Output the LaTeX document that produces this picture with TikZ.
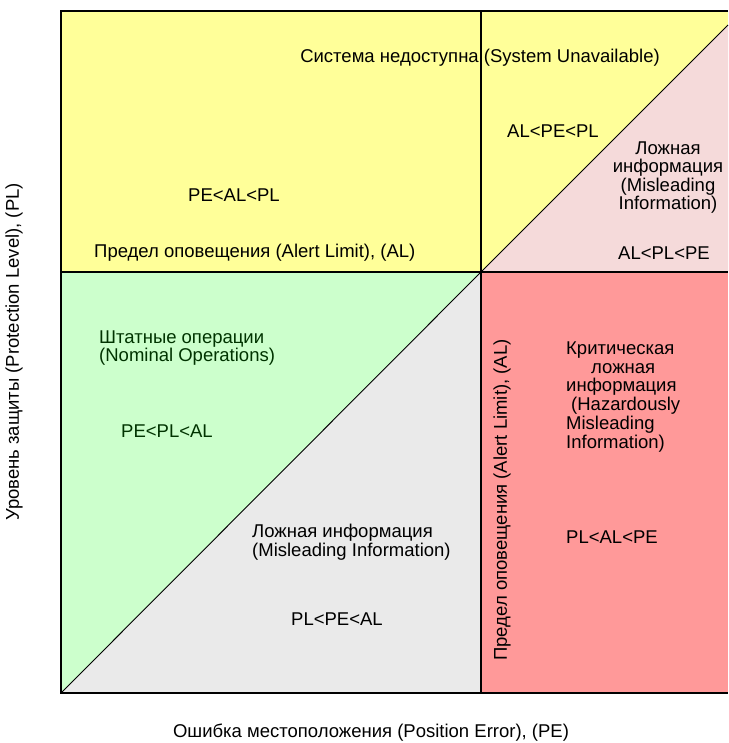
\documentclass[tikz,border=0pt]{standalone}
\usepackage{fontspec}
\setmainfont{Liberation Sans}
\usetikzlibrary{positioning}
\definecolor{cyellow}{HTML}{FFFF99}
\definecolor{cgreen}{HTML}{CCFFCC}
\definecolor{cgray}{HTML}{EAEAEA}
\definecolor{cred}{HTML}{FF9999}
\definecolor{cpink}{HTML}{F5DADA}
\definecolor{dgreen}{HTML}{003300}
\tikzset{
  lbl/.style={inner sep=0pt, font=\fontsize{18.5}{18.5}\selectfont, text=black},
  glbl/.style={lbl, text=dgreen},
  border/.style={line width=1.4pt, black},
  diag/.style={line width=0.9pt, black}
}
\begin{document}
\begin{tikzpicture}[x=1pt,y=-1pt]
\useasboundingbox (0,0) rectangle (728,743);
% coordinates
\coordinate (tl) at (61,11);
\coordinate (tm) at (481,11);
\coordinate (tr) at (728,11);
\coordinate (ml) at (61,272);
\coordinate (c)  at (481,272);
\coordinate (mr) at (728,272);
\coordinate (bl) at (61,693);
\coordinate (bm) at (481,693);
\coordinate (br) at (728,693);
\coordinate (dtr) at (728,25);
% fills
\fill[cyellow] (tl) rectangle (c);
\fill[cyellow] (tm) rectangle (mr);
\fill[cpink] (c) -- (dtr) -- (mr) -- cycle;
\fill[cgreen] (ml) -- (c) -- (bl) -- cycle;
\fill[cgray] (c) -- (bm) -- (bl) -- cycle;
\fill[cred] (c) rectangle (br);
% diagonals
\draw[diag] (bl) -- (c);
\draw[diag] (c) -- (dtr);
% borders
\draw[border] (tr) -- (tl) -- (bl) -- (br);
\draw[border] (tm) -- (bm);
\draw[border] (ml) -- (mr);
% texts
\node[lbl] (sys) at (480,58) {Система недоступна (System Unavailable)};
\node[lbl] (peal) at (234,195) {PE<AL<PL};
\node[lbl, anchor=west] (al1) at (94,253) {Предел оповещения (Alert Limit), (AL)};
\node[lbl] (alpe) at (553,131) {AL<PE<PL};
\node[lbl, align=center] (mis1) at (668,177.5) {Ложная\\информация\\(Misleading\\Information)};
\node[lbl, anchor=west] (alpl) at (618,253) {AL<PL<PE};
\node[glbl, align=left, anchor=west] (nom) at (99,348) {Штатные операции\\(Nominal Operations)};
\node[glbl, anchor=west] (pepl) at (121,431) {PE<PL<AL};
\node[lbl, align=left, anchor=west] (mis2) at (252,542) {Ложная информация\\(Misleading Information)};
\node[lbl, anchor=west] (plpe) at (291,619) {PL<PE<AL};
\node[lbl, anchor=west] (haz) at (566,398) {\begin{tabular}{@{}l@{}}Критическая\\\hspace*{25pt}ложная\\информация\\\hspace*{5pt}(Hazardously\\Misleading\\Information)\end{tabular}};
\node[lbl, anchor=west] (plal) at (566,537) {PL<AL<PE};
\node[lbl, rotate=90] (al2) at (502,500) {Предел оповещения (Alert Limit), (AL)};
\node[lbl, rotate=90] (ylab) at (14,352) {Уровень защиты (Protection Level), (PL)};
\node[lbl] (xlab) at (371,733) {Ошибка местоположения (Position Error), (PE)};
\end{tikzpicture}
\end{document}
